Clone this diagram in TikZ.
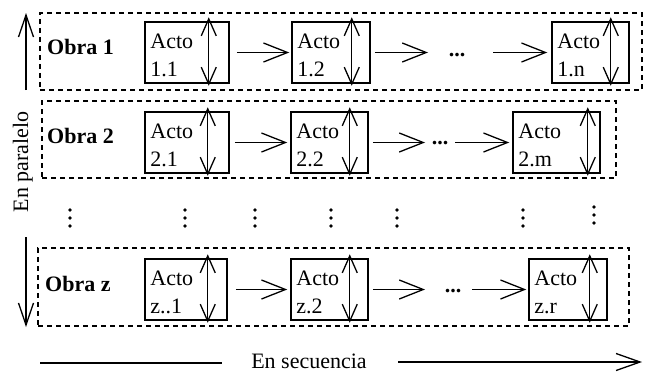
\documentclass[tikz,border=0pt]{standalone}
\usepackage{fontspec}
\setmainfont{Liberation Serif}
\usetikzlibrary{arrows.meta,calc}

\tikzset{
  txt/.style={font=\fontsize{22}{28}\selectfont},
  actbox/.style={draw, line width=1.5pt, minimum height=61pt, inner sep=0pt},
  actlbl/.style={txt, anchor=north west, align=left, inner sep=0pt},
  obra/.style={txt, font=\fontsize{22}{28}\selectfont\bfseries, anchor=base west, inner sep=0pt},
  group/.style={draw, line width=1.1pt, dash pattern=on 5pt off 4pt},
  flow/.style={line width=1.3pt, -{Straight Barb[length=24pt,width=19pt]}},
  dbl/.style={line width=1.3pt, {Straight Barb[length=17pt,width=15pt]}-{Straight Barb[length=17pt,width=15pt]}},
  axis/.style={line width=1.3pt, -{Straight Barb[length=22pt,width=15pt]}},
  hdots/.style={txt, font=\fontsize{22}{28}\selectfont\bfseries, inner sep=0pt},
}

% two-headed arrow drawn inside an act box, #2 = distance from the right edge
\newcommand\bothway[2]{\draw[dbl] ([xshift=-#2pt,yshift=4pt]#1.north east) -- ([xshift=-#2pt,yshift=-2pt]#1.south east);}

\begin{document}
\begin{tikzpicture}[x=1pt,y=-1pt]
\useasboundingbox (0,0) rectangle (647,372);

% group frames
\node[group, minimum width=602pt, minimum height=77pt, inner sep=0pt] (g1) at (341,51.5) {};
\node[group, minimum width=574pt, minimum height=77pt, inner sep=0pt] (g2) at (329,139.5) {};
\node[group, minimum width=591pt, minimum height=78pt, inner sep=0pt] (gz) at (333.5,287) {};

% group titles
\node[obra] (o1) at (47,54) {Obra 1};
\node[obra] (o2) at (47,143) {Obra 2};
\node[obra] (oz) at (45,291) {Obra z};

% row 1
\node[actbox, minimum width=84pt] (b11) at (187,52.5) {};
\node[actbox, minimum width=78pt] (b12) at (331,52.5) {};
\node[actbox, minimum width=77pt] (b1n) at (590.5,52.5) {};
\node[hdots] (d1) at (457,55) {...};

% row 2
\node[actbox, minimum width=84pt] (b21) at (187,142.5) {};
\node[actbox, minimum width=77pt] (b22) at (329.5,142.5) {};
\node[actbox, minimum width=87pt] (b2m) at (556.5,142.5) {};
\node[hdots] (d2) at (440,143) {...};

% row z
\node[actbox, minimum width=82pt] (bz1) at (186,289.5) {};
\node[actbox, minimum width=77pt] (bz2) at (329.5,289.5) {};
\node[actbox, minimum width=78pt] (bzr) at (568,289.5) {};
\node[hdots] (d3) at (453,291) {...};

% box labels
\foreach \b/\t in {b11/1.1, b12/1.2, b1n/1.n, b21/2.1, b22/2.2, b2m/2.m, bz1/z..1, bz2/z.2, bzr/z.r}
  \node[actlbl] (l\b) at ([shift={(6pt,-13pt)}]\b.north west) {Acto\\\t};

% two-way arrows in the boxes
\bothway{b11}{21}
\bothway{b12}{19}
\bothway{b1n}{19}
\bothway{b21}{22}
\bothway{b22}{19}
\bothway{b2m}{13}
\bothway{bz1}{20}
\bothway{bz2}{19}
\bothway{bzr}{18}

% sequence arrows
\draw[flow, shorten <=7pt, shorten >=2pt] (b11.east) -- (b12.west);
\draw[flow, shorten <=4pt, shorten >=29pt] (b12.east) -- (d1.center |- b12.east);
\draw[flow, shorten <=36pt, shorten >=4pt] (d1.center |- b1n.west) -- (b1n.west);

\draw[flow, shorten <=5pt, shorten >=3pt] (b21.east) -- (b22.west);
\draw[flow, shorten <=4pt, shorten >=15pt] (b22.east) -- (d2.center |- b22.east);
\draw[flow, shorten <=15pt, shorten >=3pt] (d2.center |- b2m.west) -- (b2m.west);

\draw[flow, shorten <=8pt, shorten >=3pt] (bz1.east) -- (bz2.west);
\draw[flow, shorten <=4pt, shorten >=28pt] (bz2.east) -- (d3.center |- bz2.east);
\draw[flow, shorten <=19pt, shorten >=2pt] (d3.center |- bzr.west) -- (bzr.west);

% vertical ellipses between the rows
\foreach \x/\y in {70/218, 185/218, 255/218, 331/218, 397/218, 523/218, 594/215}
  \foreach \d in {-8,0,8}
    \fill (\x,\y+\d) circle (1.8pt);

% parallel axis
\node[txt, rotate=90, anchor=base, inner sep=0pt] (par) at (28,162) {En paralelo};
\coordinate (pTop) at (26,13);
\coordinate (pBot) at (26,327);
\draw[axis] (26,90) -- (pTop);
\draw[axis] (26,237) -- (pBot);

% sequence axis
\node[txt, anchor=base, inner sep=0pt] (seq) at (309,368) {En secuencia};
\coordinate (sL) at (40,363);
\coordinate (sR) at (642,362);
\draw[line width=1.3pt] (sL) -- (222,363);
\draw[axis, -{Straight Barb[length=24pt,width=17pt]}] (398,362) -- (sR);
\end{tikzpicture}
\end{document}
